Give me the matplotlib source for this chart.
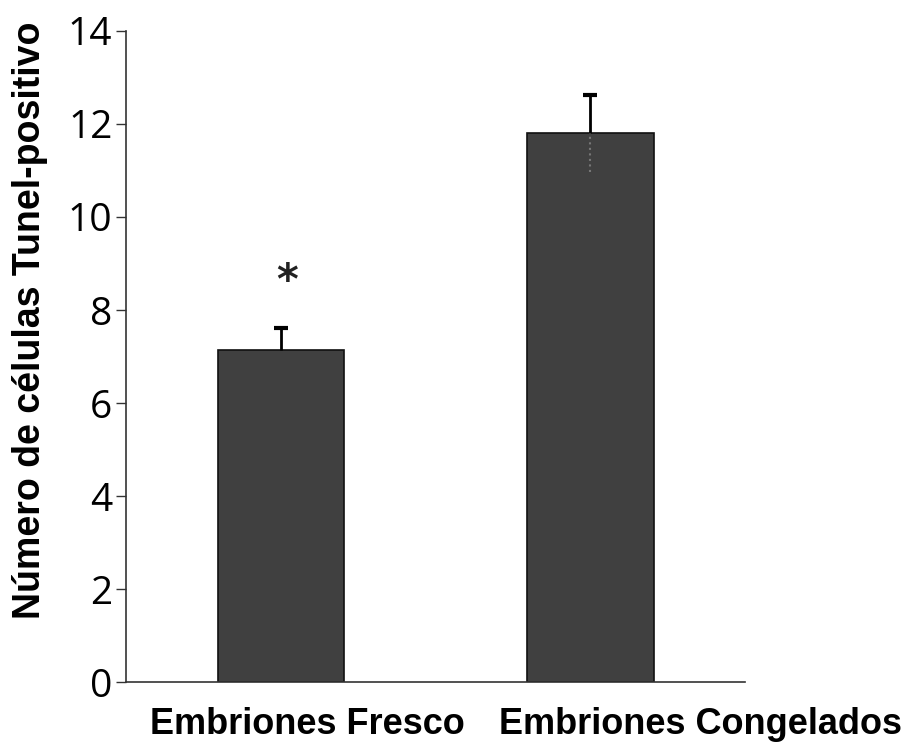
import numpy as np
from matplotlib import pyplot as plt

# data
groups = ['Embriones Fresco', 'Embriones Congelados']
means = [7.13, 11.8]
errors = [0.48, 0.83]
star_y = 8.6
label_x = [0.085, 1.358]

fig = plt.figure(figsize=(9.15, 7.53), dpi=100)
ax = fig.add_axes([0.138, 0.094, 0.676, 0.865])

x = np.arange(len(groups))
m = np.array(means)
e = np.array(errors)
ax.bar(x, m, width=0.41, color='#404040', edgecolor='#111111', linewidth=1.2, zorder=2)

# upper whiskers with a cap on top only
ax.vlines(x, m, m + e, color='black', linewidth=2, zorder=3)
ax.hlines(m + e, x - 0.023, x + 0.023, color='black', linewidth=3, zorder=3)
# lower whisker of second bar shows faintly inside the bar
ax.vlines(x[1], m[1] - e[1], m[1], color='#777777', linewidth=1.5, linestyles=':', zorder=3)

ax.text(x[0] + 0.02, star_y, '*', ha='center', va='center', fontsize=30,
        fontweight='bold', color='#222222')

ax.set_xlim(-0.5, 1.5)
ax.set_ylim(0, 14)
ax.set_yticks(range(0, 15, 2))
ax.set_yticklabels([str(v) for v in range(0, 15, 2)], family='Open Sans', fontsize=28)
ax.tick_params(axis='y', direction='out', length=7, width=1, pad=3, color='#333333')
ax.set_xticks([])
for lx, g in zip(label_x, groups):
    ax.text(lx, -0.065, g, transform=ax.get_xaxis_transform(), ha='center', va='center',
            fontsize=26, fontweight='bold', family='Liberation Sans')

for s in ['top', 'right']:
    ax.spines[s].set_visible(False)
ax.spines['left'].set_color('#333333')
ax.spines['bottom'].set_color('#333333')
ax.spines['left'].set_linewidth(1.2)
ax.spines['bottom'].set_linewidth(1.2)

fig.text(0.033, 0.575, 'Número de células Tunel-positivo', rotation=90, ha='center', va='center',
         fontsize=27, fontweight='bold', family='Liberation Sans')

plt.savefig('out.png', dpi=100)
